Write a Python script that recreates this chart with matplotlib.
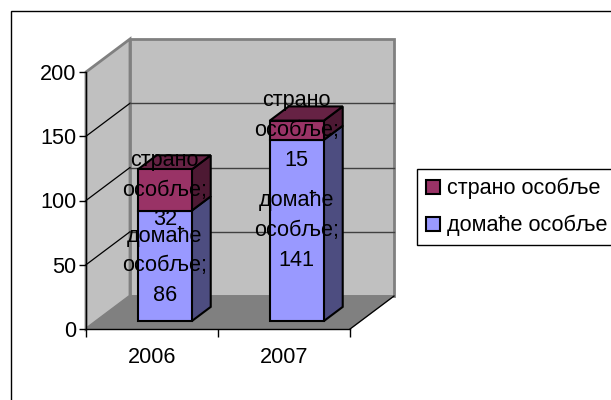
import matplotlib
matplotlib.use("Agg")
import matplotlib.pyplot as plt
from matplotlib.patches import Patch, Rectangle

godine = ["2006", "2007"]
domace = [86, 141]
strano = [32, 15]
ime_domace = "домаће особље"
ime_strano = "страно особље"
y_ticks = [0, 50, 100, 150, 200]

plt.rcParams["font.family"] = ["Liberation Sans", "DejaVu Sans"]

W, H = 611, 400
# 3d look: how far the back wall is shifted from the front plane, in data units
DX = 44 / 132
DY = 33 / 257 * 200
BAR_W = 54 / 132
BAR_D0 = 0.24
BAR_D1 = 0.67
BAR_SHIFT = 0.017
FS = 15.6


def proj(x, v, d):
    return x + d * DX, v + d * DY


def poly(ax, pts, color, edge="none", lw=0, z=1):
    xs = [p[0] for p in pts]
    ys = [p[1] for p in pts]
    ax.fill(xs, ys, facecolor=color, edgecolor=edge, linewidth=lw, zorder=z, clip_on=False)


def stub(ax, x, dolje, gore, boja, bok, vrh=None):
    # side and top of one stacked segment, the front goes through ax.bar
    l, r = x - BAR_W / 2, x + BAR_W / 2
    poly(ax, [proj(r, dolje, BAR_D0), proj(r, dolje, BAR_D1), proj(r, gore, BAR_D1), proj(r, gore, BAR_D0)],
         bok, "black", 1.5, 4)
    if vrh:
        poly(ax, [proj(l, gore, BAR_D0), proj(r, gore, BAR_D0), proj(r, gore, BAR_D1), proj(l, gore, BAR_D1)],
             vrh, "black", 1.5, 4)
    fx, fy = proj(x, dolje, BAR_D0)
    ax.bar(fx, gore - dolje, BAR_W, bottom=fy, color=boja, edgecolor="black", linewidth=1.5,
           zorder=5, clip_on=False)


fig = plt.figure(figsize=(W / 100, H / 100), dpi=100)
ax = fig.add_axes([86 / W, 1 - 329 / H, 264 / W, 257 / H])
ax.set_xlim(0, len(godine))
ax.set_ylim(0, 200)

fig.add_artist(Rectangle((11 / W, -0.1), 1.1, 1 - 11 / H + 0.1, transform=fig.transFigure,
                         facecolor="none", edgecolor="black", linewidth=1))

# walls and floor
x_max = len(godine)
poly(ax, [proj(0, 0, 0), proj(0, 0, 1), proj(0, 200, 1), proj(0, 200, 0)], "#c0c0c0", "#808080", 2)
poly(ax, [proj(0, 0, 1), proj(x_max, 0, 1), proj(x_max, 200, 1), proj(0, 200, 1)], "#c0c0c0", "#808080", 2)
poly(ax, [proj(0, 0, 0), proj(x_max, 0, 0), proj(x_max, 0, 1), proj(0, 0, 1)], "#808080", "#808080", 1, 2)
a, b = proj(x_max, 0, 0), proj(x_max, 0, 1)
ax.plot([a[0], b[0]], [a[1], b[1]], color="black", lw=0.9, zorder=2, clip_on=False)

for t in y_ticks[1:-1]:
    a, b = proj(0, t, 0), proj(0, t, 1)
    c = proj(x_max, t, 1)
    ax.plot([a[0], b[0]], [a[1], b[1]], color="black", lw=0.9, zorder=2, clip_on=False)
    ax.plot([b[0], c[0]], [b[1], c[1]], color="#404040", lw=1, zorder=2, clip_on=False)

for i, g in enumerate(godine):
    x = i + 0.5 + BAR_SHIFT
    d, s = domace[i], strano[i]
    stub(ax, x, 0, d, "#9999ff", "#4d4d80")
    stub(ax, x, d, d + s, "#993366", "#4d1933", "#662244")
    fx, _ = proj(x, 0, BAR_D0)
    _, y1 = proj(x, d / 2, BAR_D0)
    _, y2 = proj(x, d + s / 2, BAR_D0)
    ax.text(fx, y1, f"домаће\nособље;\n{d}", ha="center", va="center", fontsize=FS,
            linespacing=1.55, zorder=10, color="black")
    ax.text(fx, y2, f"страно\nособље;\n{s}", ha="center", va="center", fontsize=FS,
            linespacing=1.55, zorder=10, color="black")

ax.patch.set_visible(False)
ax.spines["top"].set_visible(False)
ax.spines["right"].set_visible(False)
for sp in ("left", "bottom"):
    ax.spines[sp].set_linewidth(1)
    ax.spines[sp].set_zorder(3)
ax.set_yticks(y_ticks)
ax.tick_params(axis="y", labelsize=FS, length=5, width=1, pad=2)
ax.set_xticks(range(len(godine) + 1))
ax.set_xticklabels([])
ax.set_xticks([i + 0.5 for i in range(len(godine))], godine, minor=True)
ax.tick_params(axis="x", which="major", length=6, width=1)
ax.tick_params(axis="x", which="minor", length=0, labelsize=FS, pad=13)

handles = [Patch(facecolor="#993366", edgecolor="black", linewidth=1.5, label=ime_strano),
           Patch(facecolor="#9999ff", edgecolor="black", linewidth=1.5, label=ime_domace)]
leg = fig.legend(handles=handles, loc="upper left", bbox_to_anchor=(417 / W, 1 - 169 / H),
                 borderaxespad=0, frameon=True, fancybox=False, edgecolor="black", framealpha=1,
                 fontsize=FS, handlelength=0.62, handleheight=0.62, handletextpad=0.33,
                 borderpad=0.42, labelspacing=0.72)
leg.get_frame().set_linewidth(1)

fig.savefig("out.png", dpi=100)
